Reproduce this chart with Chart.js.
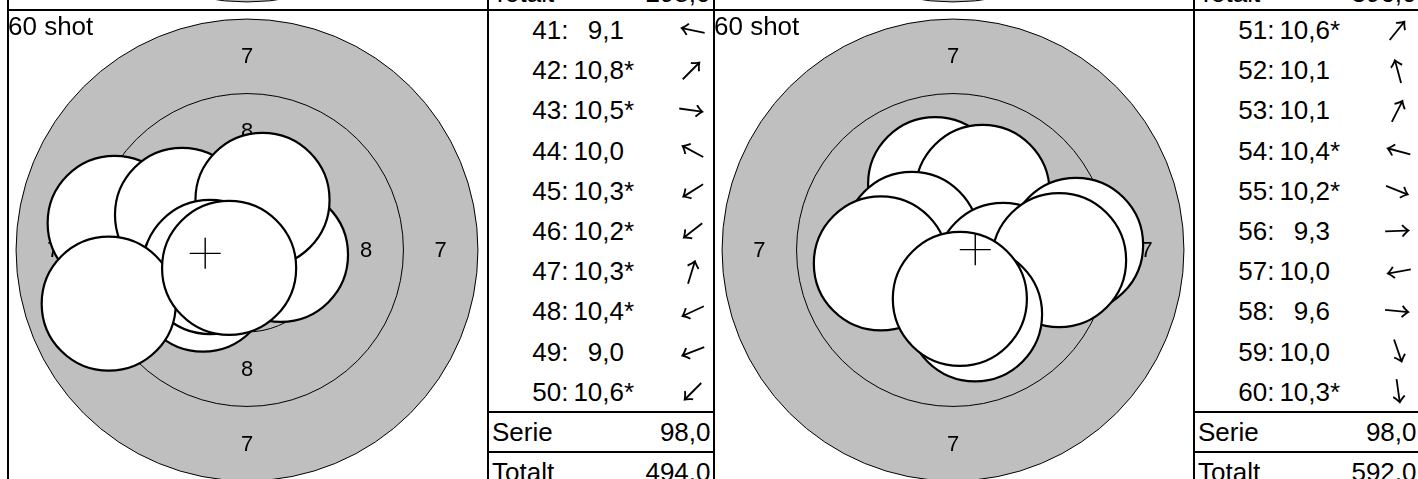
<!DOCTYPE html>
<html lang="sv">
<head>
<meta charset="utf-8">
<title>60 shot</title>
<script src="https://cdn.jsdelivr.net/npm/chart.js@4.4.1/dist/chart.umd.min.js"></script>
<style>
  html, body { margin: 0; padding: 0; background: #fff; }
  body {
    position: relative; width: 1418px; height: 479px; overflow: hidden;
    font-family: "Liberation Sans", Arial, Helvetica, sans-serif; color: #000;
  }
  .target { position: absolute; }
  .rule { position: absolute; background: #000; z-index: 3; }
  .cell { position: absolute; white-space: nowrap; font-size: 26px; z-index: 2; }
  .title { position: absolute; white-space: nowrap; font-size: 26px; line-height: 26px; z-index: 2; }
  .arrows { position: absolute; z-index: 2; }
</style>
</head>
<body>
<script>
// Shots 41-50 (left) and 51-60 (right): decimal score and hit position in mm (x right, y up)
var leftScores = [9.1, 10.8, 10.5, 10.0, 10.3, 10.2, 10.3, 10.4, 9.0, 10.6];
var leftX = [-4.44, 0.27, 1.14, -2.18, -1.38, -1.48, 0.52, -1.24, -4.64, -0.60];
var leftY = [0.91, 0.27, -0.16, 1.18, -0.87, -1.16, 1.68, -0.57, -1.80, -0.60];

var rightScores = [10.6, 10.1, 10.1, 10.4, 10.2, 9.3, 10.0, 9.6, 10.0, 10.3];
var rightX = [0.54, -0.60, 0.99, -1.38, 1.68, 4.13, -2.42, 3.56, 0.74, 0.23];
var rightY = [0.67, 2.21, 1.95, 0.37, -0.67, 0.17, -0.45, -0.34, -2.16, -1.64];

var serieTotals = [98.0, 98.0];
var runningTotals = [494.0, 592.0];
var upperTotals = [298.0, 396.0];   // last row of the series above, mostly cut off

// 10 m air rifle face: ring radii in mm (7, 8, 9, 10) and pellet radius
var ringRadii = [7.75, 5.25, 2.75, 0.25];
var ringLabels = ['7', '8'];
var pelletRadius = 2.25;

// layout
var PX_PER_MM = 29.8;
var COL_LEFT = [8, 714];
var ROW_TOP = [10 - 479, 10];
var TARGET_W = 480, TARGET_H = 479, TABLE_W = 226;
var FACE_CX = 239, FACE_CY = 240;
var SHOT_ROW_H = 40.2, SUM_ROW_H = 40;
var FONT = '"Liberation Sans", Arial, Helvetica, sans-serif';
var ARROW_FONT = '27px "Noto Sans CJK JP", "Noto Sans CJK SC", sans-serif';

function fmt(v) { return v.toFixed(1).replace('.', ','); }

function rule(x, y, w, h) {
    var d = document.createElement('div');
    d.className = 'rule';
    d.style.cssText = 'left:' + x + 'px;top:' + y + 'px;width:' + w + 'px;height:' + h + 'px';
    document.body.appendChild(d);
}

function cell(text, x, y, w, h, align) {
    var d = document.createElement('div');
    d.className = 'cell';
    d.textContent = text;
    d.style.cssText = 'left:' + x + 'px;top:' + y + 'px;width:' + w + 'px;height:' + h +
        'px;line-height:' + h + 'px;text-align:' + align;
    document.body.appendChild(d);
}

// target face: grey aiming mark, ring lines and ring numbers
var targetFace = {
    id: 'targetFace',
    beforeDatasetsDraw: function (chart) {
        var ctx = chart.ctx, sx = chart.scales.x, sy = chart.scales.y;
        var cx = sx.getPixelForValue(0), cy = sy.getPixelForValue(0);
        var px = function (mm) { return sx.getPixelForValue(mm) - cx; };
        ctx.save();
        ctx.beginPath();
        ctx.arc(cx, cy, px(ringRadii[0]), 0, Math.PI * 2);
        ctx.fillStyle = '#bfbfbf';
        ctx.fill();
        ctx.lineWidth = 1;
        ctx.strokeStyle = '#000';
        for (var i = 0; i < ringRadii.length; i++) {
            ctx.beginPath();
            ctx.arc(cx, cy, px(ringRadii[i]), 0, Math.PI * 2);
            if (i === ringRadii.length - 1) { ctx.fillStyle = '#fff'; ctx.fill(); }
            ctx.stroke();
        }
        ctx.fillStyle = '#000';
        ctx.font = '22px ' + FONT;
        ctx.textAlign = 'center';
        ctx.textBaseline = 'middle';
        ringLabels.forEach(function (lab, k) {
            var d = px((ringRadii[k] + ringRadii[k + 1]) / 2);
            [[0, -d], [d, 0], [0, d], [-d, 0]].forEach(function (o) {
                ctx.fillText(lab, cx + o[0], cy + o[1] + 1);
            });
        });
        ctx.restore();
    }
};

function pelletPx(c) {
    var s = c.chart.scales.x;
    if (!s) return 0;
    return s.getPixelForValue(pelletRadius) - s.getPixelForValue(0);
}

function makeTarget(left, top, xs, ys) {
    var box = document.createElement('div');
    box.className = 'target';
    box.style.cssText = 'left:' + left + 'px;top:' + top + 'px;width:' + TARGET_W + 'px;height:' + TARGET_H + 'px';
    document.body.appendChild(box);
    var canvas = document.createElement('canvas');
    box.appendChild(canvas);

    var shots = xs.map(function (x, i) { return { x: x, y: ys[i] }; });
    var datasets = [{
        data: shots,
        order: 1,
        pointRadius: pelletPx,
        pointBackgroundColor: '#fff',
        pointBorderColor: '#000',
        pointBorderWidth: 2.2
    }];
    if (shots.length) {
        // mean point of impact
        var mx = xs.reduce(function (a, b) { return a + b; }, 0) / xs.length;
        var my = ys.reduce(function (a, b) { return a + b; }, 0) / ys.length;
        datasets.push({
            data: [{ x: mx, y: my }],
            order: 0,
            pointStyle: 'cross',
            pointRadius: 15.5,
            pointBorderColor: '#000',
            pointBorderWidth: 1.4
        });
    }

    new Chart(canvas, {
        type: 'scatter',
        data: { datasets: datasets },
        plugins: [targetFace],
        options: {
            responsive: true,
            maintainAspectRatio: false,
            animation: false,
            events: [],
            layout: { padding: 0, autoPadding: false },
            plugins: { legend: { display: false }, tooltip: { enabled: false } },
            scales: {
                x: { type: 'linear', display: false, min: -FACE_CX / PX_PER_MM, max: (TARGET_W - FACE_CX) / PX_PER_MM },
                y: { type: 'linear', display: false, min: -(TARGET_H - FACE_CY) / PX_PER_MM, max: FACE_CY / PX_PER_MM }
            }
        }
    });
}

function makeTable(tl, top, first, scores, xs, ys, serie, total) {
    rule(tl, top + 10 * SHOT_ROW_H - 1, TABLE_W, 2);
    rule(tl, top + 10 * SHOT_ROW_H + SUM_ROW_H - 1, TABLE_W, 2);

    scores.forEach(function (s, i) {
        var y = top + i * SHOT_ROW_H;
        cell((first + i) + ':', tl, y, 80.5, SHOT_ROW_H, 'right');
        cell(fmt(s), tl, y, 136, SHOT_ROW_H, 'right');
        if (s >= 10.2) cell('*', tl + 136, y, 20, SHOT_ROW_H, 'left');
    });

    // direction of each hit from the centre
    if (scores.length) {
        var cv = document.createElement('canvas');
        cv.className = 'arrows';
        cv.width = 44;
        cv.height = Math.ceil(10 * SHOT_ROW_H);
        cv.style.left = (tl + 204 - 22) + 'px';
        cv.style.top = top + 'px';
        document.body.appendChild(cv);
        var ctx = cv.getContext('2d');
        ctx.font = ARROW_FONT;
        ctx.fillStyle = '#000';
        var m = ctx.measureText('\u2192');
        var gx = (m.actualBoundingBoxRight - m.actualBoundingBoxLeft) / 2;
        var gy = (m.actualBoundingBoxDescent - m.actualBoundingBoxAscent) / 2;
        scores.forEach(function (s, i) {
            ctx.save();
            ctx.translate(22, i * SHOT_ROW_H + SHOT_ROW_H / 2);
            ctx.rotate(Math.atan2(-ys[i], xs[i]));
            ctx.fillText('\u2192', -gx, -gy);
            ctx.restore();
        });
    }

    var ys0 = top + 10 * SHOT_ROW_H;
    if (serie != null) {
        cell('Serie', tl + 4, ys0, 120, SUM_ROW_H, 'left');
        cell(fmt(serie), tl, ys0, 222.5, SUM_ROW_H, 'right');
    }
    cell('Totalt', tl + 4, ys0 + SUM_ROW_H, 120, SUM_ROW_H, 'left');
    cell(fmt(total), tl, ys0 + SUM_ROW_H, 222.5, SUM_ROW_H, 'right');
}

function makePanel(c, r, first, scores, xs, ys, serie, total) {
    var left = COL_LEFT[c], top = ROW_TOP[r];
    makeTarget(left, top, xs, ys);
    var t = document.createElement('div');
    t.className = 'title';
    t.textContent = '60 shot';
    t.style.left = left + 'px';
    t.style.top = (top + 3) + 'px';
    document.body.appendChild(t);
    rule(left - 1, top, 2, TARGET_H);
    rule(left + TARGET_W - 1, top, 2, TARGET_H);
    rule(left + TARGET_W + TABLE_W - 1, top, 2, TARGET_H);
    makeTable(left + TARGET_W, top, first, scores, xs, ys, serie, total);
}

ROW_TOP.forEach(function (top) { rule(COL_LEFT[0] - 1, top - 1, 1418, 2); });

makePanel(0, 0, 21, [], [], [], null, upperTotals[0]);
makePanel(1, 0, 31, [], [], [], null, upperTotals[1]);
makePanel(0, 1, 41, leftScores, leftX, leftY, serieTotals[0], runningTotals[0]);
makePanel(1, 1, 51, rightScores, rightX, rightY, serieTotals[1], runningTotals[1]);
</script>
</body>
</html>
